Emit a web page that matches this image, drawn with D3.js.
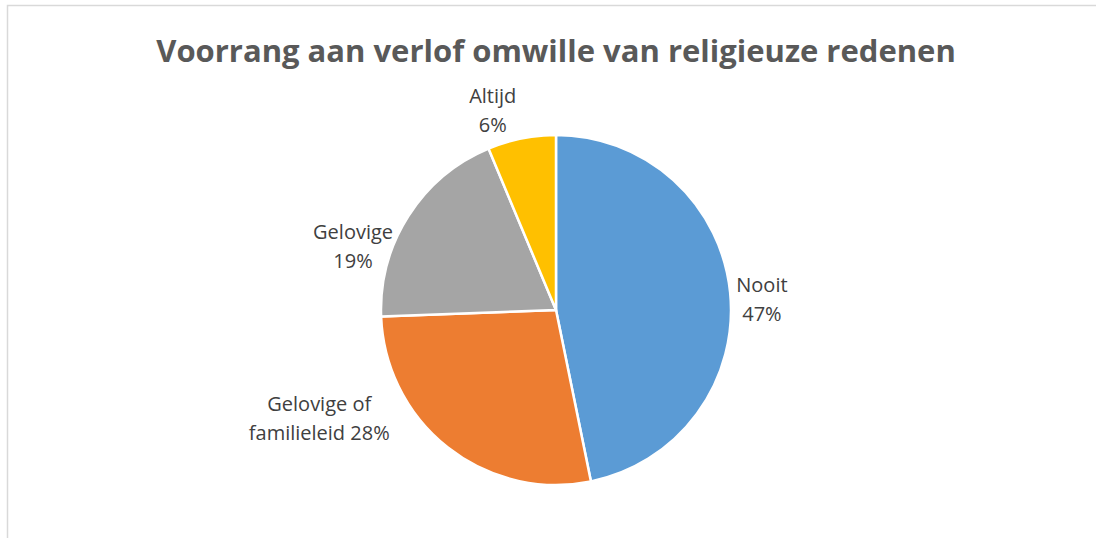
<!DOCTYPE html>
<html>
<head>
<meta charset="utf-8">
<script src="https://cdn.jsdelivr.net/npm/d3@7"></script>
<style>
  body { margin: 0; background: #fff; }
  svg { display: block; }
</style>
</head>
<body>
<div id="chart"></div>
<script>
// data (labels show rounded percentages)
const categories = ["Nooit", "Gelovige of familieleid", "Gelovige", "Altijd"];
const values = [46.8, 27.6, 19.3, 6.3];
const colors = ["#5B9BD5", "#ED7D31", "#A5A5A5", "#FFC000"];

const width = 1096, height = 538;
const cx = 556, cy = 310, radius = 175;

// label layout (Excel "best fit" placement, nudged from a label arc)
const labelRadius = 210;
const labelNudge = {
  "Nooit": [-3, 11],
  "Gelovige of familieleid": [-107, -57],
  "Gelovige": [-26, 50],
  "Altijd": [-22, 6]
};
const labelBreak = {
  "Gelovige of familieleid": ["Gelovige of", "familieleid {p}"]
};

const data = categories.map((c, i) => ({ name: c, value: values[i], color: colors[i] }));
const total = d3.sum(values);

const svg = d3.select("#chart").append("svg")
  .attr("width", width)
  .attr("height", height);

// chart frame
svg.append("rect")
  .attr("x", 7.5).attr("y", 5.5)
  .attr("width", width + 20).attr("height", height + 20)
  .attr("fill", "#fff")
  .attr("stroke", "#d9d9d9")
  .attr("stroke-width", 1.5);

svg.append("text")
  .attr("x", cx)
  .attr("y", 62)
  .attr("text-anchor", "middle")
  .attr("font-family", "'Open Sans', sans-serif")
  .attr("font-weight", "bold")
  .attr("font-size", 31)
  .attr("fill", "#595959")
  .text("Voorrang aan verlof omwille van religieuze redenen");

const pie = d3.pie().sort(null).value(d => d.value);
const arc = d3.arc().innerRadius(0).outerRadius(radius);
const labelArc = d3.arc().innerRadius(labelRadius).outerRadius(labelRadius);

const g = svg.append("g").attr("transform", `translate(${cx},${cy})`);
const arcs = pie(data);

g.selectAll("path")
  .data(arcs)
  .enter()
  .append("path")
  .attr("d", arc)
  .attr("fill", d => d.data.color)
  .attr("stroke", "#fff")
  .attr("stroke-width", 2.5)
  .attr("stroke-linejoin", "round");

const labels = g.selectAll("text.lbl")
  .data(arcs)
  .enter()
  .append("text")
  .attr("class", "lbl")
  .attr("text-anchor", "middle")
  .attr("font-family", "'Open Sans', sans-serif")
  .attr("font-size", 20)
  .attr("fill", "#404040")
  .attr("transform", d => {
    const c = labelArc.centroid(d);
    const n = labelNudge[d.data.name] || [0, 0];
    return `translate(${c[0] + n[0]},${c[1] + n[1]})`;
  });

labels.each(function(d) {
  const pct = Math.round(d.data.value / total * 100) + "%";
  const lines = labelBreak[d.data.name]
    ? labelBreak[d.data.name].map(s => s.replace("{p}", pct))
    : [d.data.name, pct];
  d3.select(this).selectAll("tspan")
    .data(lines)
    .enter()
    .append("tspan")
    .attr("x", 0)
    .attr("y", (s, i) => (i - (lines.length - 1) / 2) * 29 + 7)
    .text(s => s);
});
</script>
</body>
</html>
